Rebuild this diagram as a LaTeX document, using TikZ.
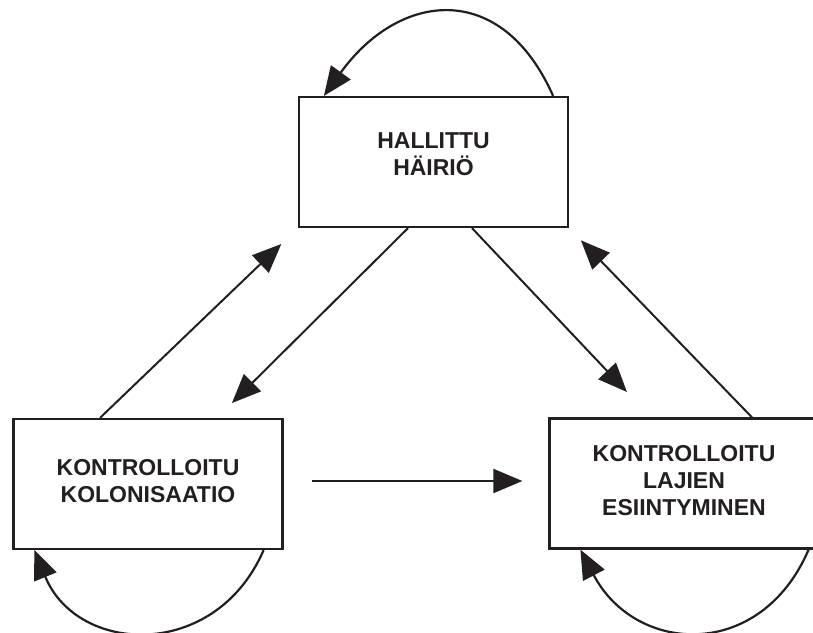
\documentclass[tikz,border=0pt]{standalone}
\usepackage{fontspec}
\setsansfont{Liberation Sans}
\usepackage{tikz}
\usetikzlibrary{arrows.meta, positioning}
\definecolor{inkblack}{RGB}{35, 31, 32}

\begin{document}
\begin{tikzpicture}[
    x=1pt, y=-1pt,
    box/.style={rectangle, draw=inkblack, line width=2.2pt, fill=white,
                minimum width=269pt, minimum height=130pt, inner sep=0pt,
                align=center, text=inkblack,
                font=\sffamily\bfseries\fontsize{23}{27}\selectfont},
    arr/.style={-{Triangle[length=29pt, width=24pt]}, line width=2pt, draw=inkblack},
    loop/.style={arr, line width=2.2pt}
]
\useasboundingbox (0,0) rectangle (813,632);

%% States
\node[box, text depth=16pt] (hairio)       at (433.5, 162) {HALLITTU\\HÄIRIÖ};
\node[box, text depth=6pt]  (kolonisaatio) at (148,   484) {KONTROLLOITU\\KOLONISAATIO};
\node[box, text depth=6pt]  (esiintyminen) at (684,   483.5) {KONTROLLOITU\\LAJIEN\\ESIINTYMINEN};

%% Transitions between states
\draw[arr, shorten >=23pt] ([xshift=-48pt]kolonisaatio.north) -- (hairio.south west);
\draw[arr, shorten >=21pt] ([xshift=-25.5pt]hairio.south) -- ([xshift=69pt]kolonisaatio.north);
\draw[arr, shorten >=35pt] ([xshift=38.5pt]hairio.south) -- ([xshift=-33pt]esiintyminen.north);
\draw[arr, shorten >=17pt] ([xshift=68pt]esiintyminen.north) -- (hairio.south east);
\draw[arr, shorten <=28pt, shorten >=26pt]
    ([yshift=3pt]kolonisaatio.east) -- ([yshift=3pt]kolonisaatio.east -| esiintyminen.west);

%% Self loops
\draw[loop] ([xshift=-16pt]hairio.north east)
    .. controls +(-52,-117) and +(75,-104) .. ([xshift=26pt]hairio.north west);
\draw[loop] ([xshift=-20pt]kolonisaatio.south east)
    .. controls +(-48,111) and +(43,105) .. ([xshift=22pt]kolonisaatio.south west);
\draw[loop] ([xshift=-11pt]esiintyminen.south east)
    .. controls +(-48,112) and +(55,105) .. ([xshift=32pt]esiintyminen.south west);

\end{tikzpicture}
\end{document}
